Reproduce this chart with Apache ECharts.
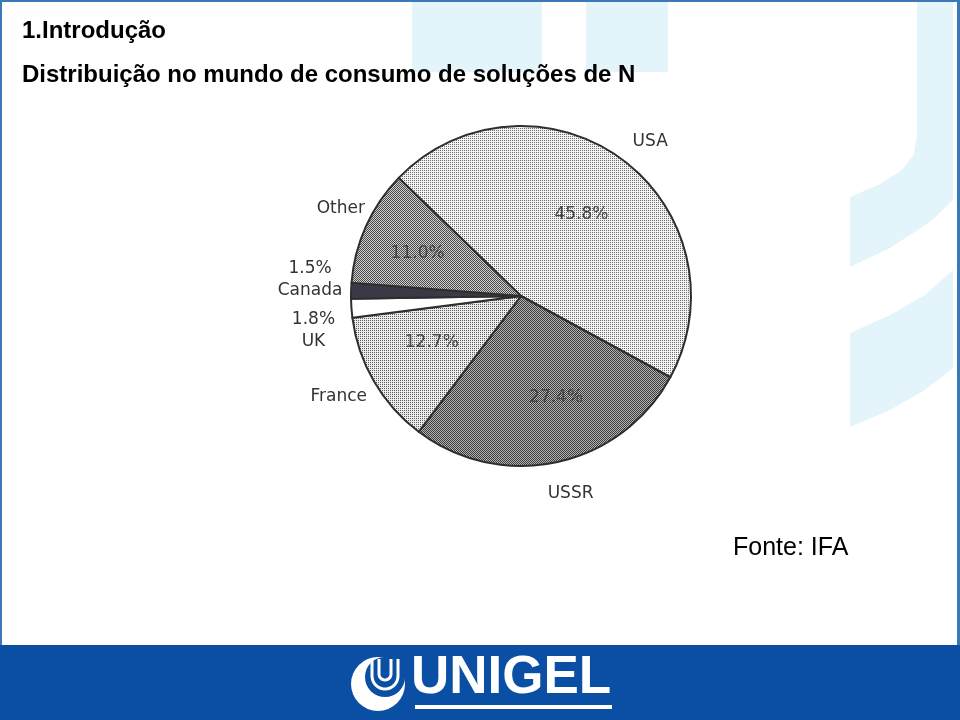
<!DOCTYPE html>
<html><head><meta charset="utf-8">
<script src="https://cdn.jsdelivr.net/npm/echarts@6/dist/echarts.min.js"></script>
<style>html,body{margin:0;padding:0;background:#fff}#c{width:960px;height:720px}</style>
</head><body><div id="c"></div>
<script>
// ---- data ----
const countries = ['USA', 'USSR', 'France', 'UK', 'Canada', 'Other'];
const shares = [45.8, 27.4, 12.7, 1.8, 1.5, 11.0];
const titleText = '1.Introdução';
const subtitleText = 'Distribuição no mundo de consumo de soluções de N';
const sourceText = 'Fonte: IFA';
const brandText = 'UNIGEL';

// ---- styles ----
function pattern(bg, dot, size, pts) {
  const c = document.createElement('canvas');
  c.width = c.height = size;
  const g = c.getContext('2d');
  g.fillStyle = bg; g.fillRect(0, 0, size, size);
  g.fillStyle = dot;
  pts.forEach(p => g.fillRect(p[0], p[1], 1, 1));
  return { image: c, repeat: 'repeat' };
}
const fills = {
  USA: pattern('#f4f4f4', '#6a6a6a', 2, [[0, 0]]),
  France: pattern('#ececec', '#5a5a5a', 2, [[0, 0]]),
  Other: pattern('#cfcfcf', '#4a4a4a', 2, [[0, 0], [1, 1]]),
  USSR: pattern('#b5b5b5', '#3a3a3a', 2, [[0, 0], [1, 1]]),
  Canada: '#3a3a46',
  UK: '#ffffff'
};
const labelFont = '"DejaVu Sans"';
const labelColor = '#333333';
// label nudges (pixels) to mimic the hand-placed labels of the original figure
const outerNudge = { USA: [-7, 0], USSR: [-19, 10], France: [17, 4], UK: [-19, -5], Canada: [-19, -10], Other: [24, -9] };
const innerNudge = { USA: [-4, 6], USSR: [12, -5], France: [5, -8], UK: [0, 0], Canada: [0, 0], Other: [-4, 2] };

const mainData = countries.map((n, i) => ({ name: n, value: shares[i], itemStyle: { color: fills[n] } }));
const innerData = countries.map((n, i) => ({
  name: n, value: shares[i],
  label: { show: shares[i] >= 5 }
}));

// logo U strokes (decorative)
function uShape(x0, x1, yTop, yBase) {
  const r = (x1 - x0) / 2, cx = x0 + r, pts = [[x0, yTop]];
  for (let k = 0; k <= 16; k++) {
    const a = Math.PI * k / 16;
    pts.push([cx - r * Math.cos(a), yBase + r * Math.sin(a)]);
  }
  pts.push([x1, yTop]);
  return pts;
}

const chart = echarts.init(document.getElementById('c'), null, { renderer: 'canvas' });

const bg = '#e4f4fb';
const blue = '#0b4fa4';
chart.setOption({
  backgroundColor: '#ffffff',
  animation: false,
  graphic: [
    { type: 'rect', z: -10, shape: { x: 412, y: 0, width: 130, height: 72 }, style: { fill: bg } },
    { type: 'rect', z: -10, shape: { x: 586, y: 0, width: 82, height: 72 }, style: { fill: bg } },
    { type: 'polygon', z: -10, shape: { points: [[917, 0], [953, 0], [953, 200], [930, 222], [890, 248], [850, 267], [850, 197], [880, 184], [902, 170], [914, 154], [917, 135]] }, style: { fill: bg } },
    { type: 'polygon', z: -10, shape: { points: [[850, 333], [890, 315], [925, 295], [953, 270], [953, 368], [925, 390], [890, 410], [850, 427]] }, style: { fill: bg } },
    { type: 'rect', z: -5, shape: { x: 0, y: 0, width: 960, height: 2 }, style: { fill: '#3a78b8' } },
    { type: 'rect', z: -5, shape: { x: 0, y: 0, width: 2, height: 645 }, style: { fill: '#3a78b8' } },
    { type: 'rect', z: -5, shape: { x: 957, y: 0, width: 3, height: 645 }, style: { fill: '#3a78b8' } },
    { type: 'rect', z: 5, shape: { x: 0, y: 645, width: 960, height: 75 }, style: { fill: blue } },
    { type: 'text', z: 6, left: 411, top: 652, style: { text: brandText, fill: '#ffffff', font: 'bold 53px "Liberation Sans", Arial, sans-serif' } },
    { type: 'rect', z: 6, shape: { x: 415, y: 705, width: 197, height: 4 }, style: { fill: '#ffffff' } },
    { type: 'circle', z: 6, shape: { cx: 378, cy: 684, r: 27 }, style: { fill: '#ffffff' } },
    { type: 'circle', z: 7, shape: { cx: 385, cy: 677, r: 20 }, style: { fill: blue } },
    { type: 'polyline', z: 8, shape: { points: uShape(372, 398, 659, 676) }, style: { fill: 'none', stroke: '#ffffff', lineWidth: 3 } },
    { type: 'polyline', z: 8, shape: { points: uShape(379, 391, 659, 674) }, style: { fill: 'none', stroke: '#ffffff', lineWidth: 3 } }
  ],
  title: [
    { text: titleText, left: 17, top: 14, textStyle: { fontFamily: '"Liberation Sans", Arial, sans-serif', fontWeight: 'bold', fontSize: 24, color: '#000' } },
    { text: subtitleText, left: 17, top: 58, textStyle: { fontFamily: '"Liberation Sans", Arial, sans-serif', fontWeight: 'bold', fontSize: 24, color: '#000' } },
    { text: sourceText, left: 728, top: 531, textStyle: { fontFamily: '"Liberation Sans", Arial, sans-serif', fontWeight: 'normal', fontSize: 25, color: '#000' } }
  ],
  series: [
    {
      type: 'pie',
      center: [521, 296],
      radius: [0, 170],
      startAngle: 136,
      clockwise: true,
      avoidLabelOverlap: true,
      itemStyle: { borderColor: '#2e2e2e', borderWidth: 2 },
      label: {
        show: true, position: 'outside',
        fontFamily: labelFont, fontSize: 17, color: labelColor, lineHeight: 22,
        formatter: p => p.value < 5 ? p.value.toFixed(1) + '%\n' + p.name : p.name
      },
      labelLine: { show: false, length: 22, length2: 0 },
      labelLayout: p => {
        const n = countries[p.dataIndex], o = outerNudge[n];
        const r = { dx: o[0], dy: o[1] };
        if (shares[p.dataIndex] < 5) r.align = 'center';
        return r;
      },
      emphasis: { disabled: true },
      data: mainData
    },
    {
      type: 'pie',
      center: [521, 296],
      radius: [0, 212],
      startAngle: 136,
      clockwise: true,
      silent: true,
      itemStyle: { color: 'rgba(0,0,0,0)', borderWidth: 0 },
      label: {
        show: true, position: 'inside',
        fontFamily: labelFont, fontSize: 17, color: '#444444',
        formatter: p => p.value.toFixed(1) + '%'
      },
      labelLine: { show: false },
      labelLayout: p => {
        const o = innerNudge[countries[p.dataIndex]];
        return { dx: o[0], dy: o[1] };
      },
      emphasis: { disabled: true },
      data: innerData
    }
  ]
});
</script>
</body></html>
